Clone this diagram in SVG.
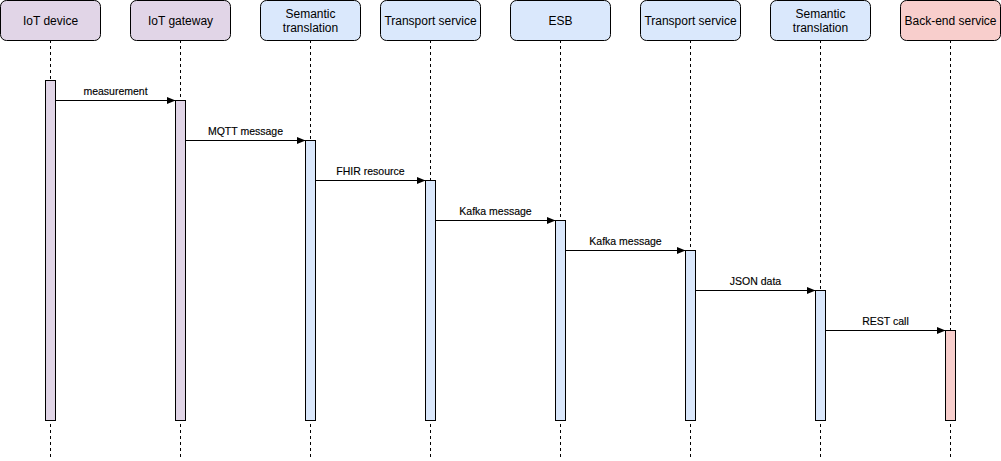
<svg xmlns="http://www.w3.org/2000/svg" width="1001" height="461" viewBox="0 0 1001 461">
<defs>
<style>
.hdr{stroke:#000;stroke-width:1}
.p{fill:#e1d5e7}.b{fill:#dae8fc}.r{fill:#f8cecc}
.life{stroke:#000;stroke-width:1;stroke-dasharray:3,3;fill:none}
.bar{stroke:#000;stroke-width:1}
.t{font-family:"Liberation Sans",Arial,sans-serif;font-size:12px;fill:#000;text-anchor:middle}
.l{font-family:"Liberation Sans",Arial,sans-serif;font-size:10.5px;fill:#000;text-anchor:middle;stroke:#000;stroke-width:0.15}
.msg{stroke:#000;stroke-width:1;fill:none;marker-end:url(#ah)}
</style>
<marker id="ah" viewBox="0 0 10 10" refX="10" refY="5" markerWidth="9" markerHeight="9" markerUnits="userSpaceOnUse" orient="auto">
<path d="M0,1 L10,5 L0,9 Z" fill="#000"/>
</marker>
</defs>
<rect width="1001" height="461" fill="#fff"/>
<g id="iot-device">
<line class="life" x1="50.5" y1="40" x2="50.5" y2="460"/>
<rect class="hdr p" x="0.5" y="0.5" width="100" height="40" rx="6"/>
<text class="t" x="50.5" y="24.5">IoT device</text>
<rect class="bar p" x="45.5" y="80.5" width="10" height="340"/>
</g>
<g id="iot-gateway">
<line class="life" x1="180.5" y1="40" x2="180.5" y2="460"/>
<rect class="hdr p" x="130.5" y="0.5" width="100" height="40" rx="6"/>
<text class="t" x="180.5" y="24.5">IoT gateway</text>
<rect class="bar p" x="175.5" y="100.5" width="10" height="320"/>
</g>
<g id="semantic-1">
<line class="life" x1="310.5" y1="40" x2="310.5" y2="460"/>
<rect class="hdr b" x="260.5" y="0.5" width="100" height="40" rx="6"/>
<text class="t" x="310.5" y="17.5">Semantic</text>
<text class="t" x="310.5" y="31.5">translation</text>
<rect class="bar b" x="305.5" y="140.5" width="10" height="280"/>
</g>
<g id="transport-1">
<line class="life" x1="430.5" y1="40" x2="430.5" y2="460"/>
<rect class="hdr b" x="380.5" y="0.5" width="100" height="40" rx="6"/>
<text class="t" x="430.5" y="24.5">Transport service</text>
<rect class="bar b" x="425.5" y="180.5" width="10" height="240"/>
</g>
<g id="esb">
<line class="life" x1="560.5" y1="40" x2="560.5" y2="460"/>
<rect class="hdr b" x="510.5" y="0.5" width="100" height="40" rx="6"/>
<text class="t" x="560.5" y="24.5">ESB</text>
<rect class="bar b" x="555.5" y="220.5" width="10" height="200"/>
</g>
<g id="transport-2">
<line class="life" x1="690.5" y1="40" x2="690.5" y2="460"/>
<rect class="hdr b" x="640.5" y="0.5" width="100" height="40" rx="6"/>
<text class="t" x="690.5" y="24.5">Transport service</text>
<rect class="bar b" x="685.5" y="250.5" width="10" height="170"/>
</g>
<g id="semantic-2">
<line class="life" x1="820.5" y1="40" x2="820.5" y2="460"/>
<rect class="hdr b" x="770.5" y="0.5" width="100" height="40" rx="6"/>
<text class="t" x="820.5" y="17.5">Semantic</text>
<text class="t" x="820.5" y="31.5">translation</text>
<rect class="bar b" x="815.5" y="290.5" width="10" height="130"/>
</g>
<g id="backend">
<line class="life" x1="950.5" y1="40" x2="950.5" y2="460"/>
<rect class="hdr r" x="900.5" y="0.5" width="100" height="40" rx="6"/>
<text class="t" x="950.5" y="24.5">Back-end service</text>
<rect class="bar r" x="945.5" y="330.5" width="10" height="90"/>
</g>
<g id="connectors">
<line class="msg" x1="55.5" y1="100.5" x2="175.5" y2="100.5"/>
<text class="l" x="115.5" y="95">measurement</text>
<line class="msg" x1="185.5" y1="140.5" x2="305.5" y2="140.5"/>
<text class="l" x="245.5" y="135">MQTT message</text>
<line class="msg" x1="315.5" y1="180.5" x2="425.5" y2="180.5"/>
<text class="l" x="370.5" y="175">FHIR resource</text>
<line class="msg" x1="435.5" y1="220.5" x2="555.5" y2="220.5"/>
<text class="l" x="495.5" y="215">Kafka message</text>
<line class="msg" x1="565.5" y1="250.5" x2="685.5" y2="250.5"/>
<text class="l" x="625.5" y="245">Kafka message</text>
<line class="msg" x1="695.5" y1="290.5" x2="815.5" y2="290.5"/>
<text class="l" x="755.5" y="285">JSON data</text>
<line class="msg" x1="825.5" y1="330.5" x2="945.5" y2="330.5"/>
<text class="l" x="885.5" y="325">REST call</text>
</g>
</svg>
